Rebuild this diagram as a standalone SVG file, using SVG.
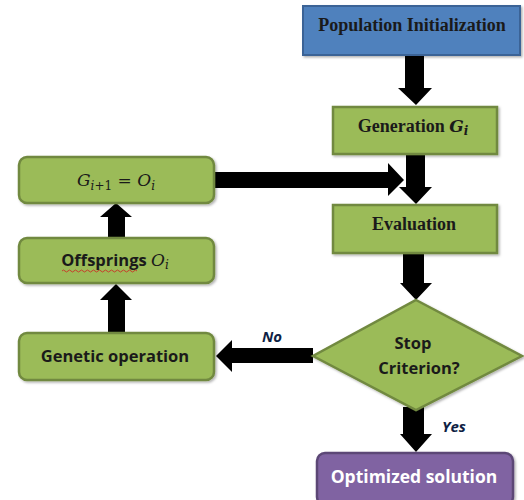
<svg xmlns="http://www.w3.org/2000/svg" width="524" height="500" viewBox="0 0 524 500">
  <defs>
    <filter id="shadow" x="-10%" y="-10%" width="130%" height="140%">
      <feDropShadow dx="1.5" dy="1.5" stdDeviation="1" flood-color="#000" flood-opacity="0.3"/>
    </filter>
  </defs>
  <style>
    .green { fill: #9bbb59; stroke: #71893f; stroke-width: 2.5; filter: url(#shadow); }
    .blue { fill: #4f81bd; stroke: #3a6496; stroke-width: 2; filter: url(#shadow); }
    .purple { fill: #8064a2; stroke: #5c4776; stroke-width: 2.5; filter: url(#shadow); }
    .serif { font-family: "Liberation Serif", "Times New Roman", serif; font-weight: bold; font-size: 18px; fill: #1a1a1a; }
    .sans { font-family: "Open Sans", Lato, "Liberation Sans", sans-serif; font-weight: bold; font-size: 16.5px; fill: #1a1a1a; }
    .math { font-family: "DejaVu Serif", "Liberation Serif", serif; font-style: italic; font-weight: normal; fill: #1a1a1a; }
    .math.b { font-weight: bold; }
    .lbl { font-family: "Open Sans", Lato, "Liberation Sans", sans-serif; font-weight: bold; font-style: italic; font-size: 15px; fill: #0f1f45; }
    .arrow { fill: #000; }
  </style>

  <!-- connectors -->
  <g id="connectors">
    <!-- Population Initialization -> Generation -->
    <polygon class="arrow" points="405,55 424,55 424,88 432,88 416,105 398,88 405,88"/>
    <!-- Generation -> Evaluation -->
    <polygon class="arrow" points="406,154 425,154 425,187 432,187 416,204 399,187 406,187"/>
    <!-- G(i+1) = O(i) -> Generation/Evaluation junction -->
    <polygon class="arrow" points="213,172 388,172 388,163 404,180 388,196 388,188 213,188"/>
    <!-- Evaluation -> Stop Criterion -->
    <polygon class="arrow" points="403,253 424,253 424,283 432,283 416,300 400,283 403,283"/>
    <!-- Stop Criterion -> Genetic operation (No) -->
    <polygon class="arrow" points="313,348 232,348 232,340 216,356 232,372 232,363 313,363"/>
    <!-- Genetic operation -> Offsprings -->
    <polygon class="arrow" points="108,333 125,333 125,300 132,300 116,284 100,300 108,300"/>
    <!-- Offsprings -> G(i+1) = O(i) -->
    <polygon class="arrow" points="108,238 125,238 125,217 132,217 116,203 100,217 108,217"/>
    <!-- Stop Criterion -> Optimized solution (Yes) -->
    <polygon class="arrow" points="403,407 424,407 424,434 432,434 416,452 400,434 403,434"/>
    <text class="lbl" x="272" y="342" text-anchor="middle">No</text>
    <text class="lbl" x="454" y="432" text-anchor="middle">Yes</text>
  </g>

  <!-- Population Initialization -->
  <g id="population-init">
    <rect class="blue" x="303" y="6" width="217" height="49"/>
    <text class="serif" x="412" y="31" text-anchor="middle">Population Initialization</text>
  </g>

  <!-- Generation G_i -->
  <g id="generation">
    <rect class="green" x="333" y="107" width="164" height="47"/>
    <text class="serif" x="413" y="132" text-anchor="middle">Generation <tspan class="math b" font-size="17">G</tspan><tspan class="math b" font-size="12" dy="3">i</tspan></text>
  </g>

  <!-- Evaluation -->
  <g id="evaluation">
    <rect class="green" x="333" y="205" width="164" height="48"/>
    <text class="serif" x="414" y="230" text-anchor="middle">Evaluation</text>
  </g>

  <!-- Stop Criterion? -->
  <g id="stop-criterion">
    <polygon class="green" points="416,300 522,356 416,410 313,356"/>
    <text class="sans" x="413" y="349" text-anchor="middle">Stop</text>
    <text class="sans" x="419" y="374" text-anchor="middle">Criterion?</text>
  </g>

  <!-- Optimized solution -->
  <g id="optimized-solution">
    <rect class="purple" x="317" y="453" width="196" height="52" rx="8"/>
    <text class="sans" x="414" y="483" text-anchor="middle" style="fill:#fff; font-size:17.5px">Optimized solution</text>
  </g>

  <!-- Genetic operation -->
  <g id="genetic-operation">
    <rect class="green" x="19" y="333" width="195" height="47" rx="8"/>
    <text class="sans" x="115" y="362" text-anchor="middle">Genetic operation</text>
  </g>

  <!-- Offsprings O_i -->
  <g id="offsprings">
    <rect class="green" x="19" y="238" width="195" height="45" rx="8"/>
    <text class="sans" x="115" y="266" text-anchor="middle">Offsprings <tspan class="math" font-size="17">O</tspan><tspan class="math" font-size="12" dy="3">i</tspan></text>
    <path d="M62,271 q1.5,-2 3,0 t3,0 t3,0 t3,0 t3,0 t3,0 t3,0 t3,0 t3,0 t3,0 t3,0 t3,0 t3,0 t3,0 t3,0 t3,0 t3,0 t3,0 t3,0 t3,0 t3,0 t3,0 t3,0 t3,0 t3,0" fill="none" stroke="#d02020" stroke-width="0.8"/>
  </g>

  <!-- G_{i+1} = O_i -->
  <g id="next-generation">
    <rect class="green" x="19" y="157" width="195" height="46" rx="8"/>
    <text x="116" y="186" text-anchor="middle" font-family="'DejaVu Serif', 'Liberation Serif', serif" fill="#1a1a1a"><tspan font-style="italic" font-size="17">G</tspan><tspan font-style="italic" font-size="12" dy="4">i</tspan><tspan font-size="12">+1</tspan><tspan font-size="17" dy="-4"> = </tspan><tspan font-style="italic" font-size="17">O</tspan><tspan font-style="italic" font-size="12" dy="4">i</tspan></text>
  </g>
</svg>
